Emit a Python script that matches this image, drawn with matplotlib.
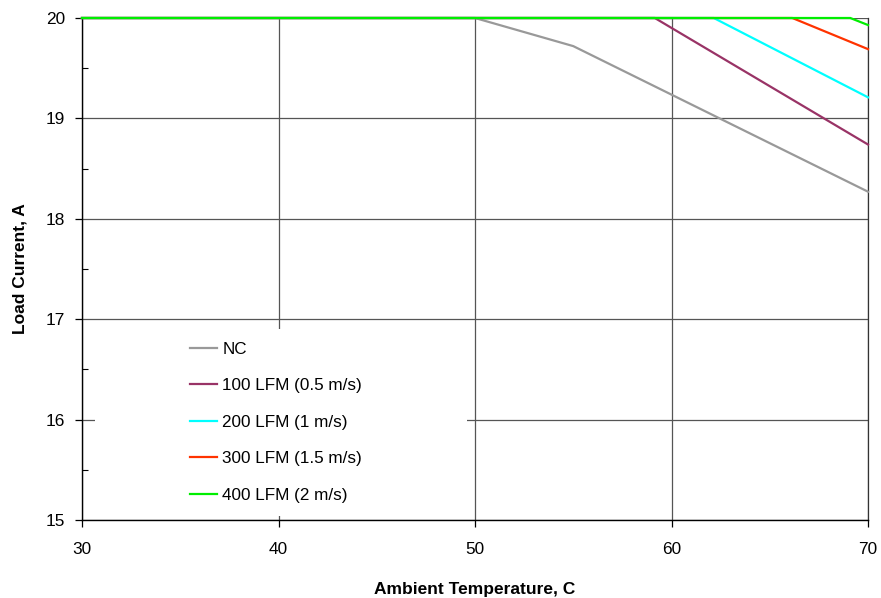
import matplotlib.pyplot as plt
from matplotlib.patches import Rectangle
from matplotlib.ticker import MultipleLocator

plt.rcParams['font.family'] = ['Liberation Sans', 'DejaVu Sans']

# derating curves (temperature C, current A)
nc_x = [30, 50, 55, 70]
nc_y = [20, 20, 19.72, 18.27]
lfm100_x = [30, 59.15, 70]
lfm100_y = [20, 20, 18.74]
lfm200_x = [30, 62.15, 70]
lfm200_y = [20, 20, 19.21]
lfm300_x = [30, 66.15, 70]
lfm300_y = [20, 20, 19.69]
lfm400_x = [30, 69.1, 70]
lfm400_y = [20, 20, 19.93]

labels = ['NC', '100 LFM (0.5 m/s)', '200 LFM (1 m/s)',
          '300 LFM (1.5 m/s)', '400 LFM (2 m/s)']
colors = ['#999999', '#993366', '#00FFFF', '#FF3300', '#00EE00']

fig = plt.figure(figsize=(8.81, 5.98), dpi=100)
ax = fig.add_axes([82/881, 1 - 520/598, 786/881, 502/598])

series = [(nc_x, nc_y), (lfm100_x, lfm100_y), (lfm200_x, lfm200_y),
          (lfm300_x, lfm300_y), (lfm400_x, lfm400_y)]
for (xs, ys), lab, c in zip(series, labels, colors):
    ax.plot(xs, ys, color=c, lw=1.6, label=lab, zorder=4, clip_on=False)

ax.set_xlim(30, 70)
ax.set_ylim(15, 20)
ax.xaxis.set_major_locator(MultipleLocator(10))
ax.yaxis.set_major_locator(MultipleLocator(1))
ax.yaxis.set_minor_locator(MultipleLocator(0.5))
ax.grid(True, which='major', color='#555555', lw=0.9, zorder=1)
ax.set_axisbelow(True)

ax.tick_params(axis='both', which='major', labelsize=12.4, direction='out',
               length=5, width=0.9, color='black')
ax.tick_params(axis='x', which='major', pad=11)
ax.tick_params(axis='y', which='major', pad=7)
ax.tick_params(axis='y', which='minor', direction='in', length=4, width=0.8)

for side in ['left', 'bottom']:
    ax.spines[side].set_color('black')
    ax.spines[side].set_linewidth(1.0)
ax.spines['right'].set_color('#333333')
ax.spines['right'].set_linewidth(0.9)
ax.spines['top'].set_visible(False)

ax.set_xlabel('Ambient Temperature, C', fontsize=12.5, fontweight='bold', labelpad=18)
ax.set_ylabel('Load Current, A', fontsize=12.5, fontweight='bold', labelpad=13)

# white legend area covering the grid
ax.add_patch(Rectangle((13/786, 4/502), 372/786, 187/502, transform=ax.transAxes,
                       facecolor='white', edgecolor='none', zorder=2))
ax.legend(loc='upper left', bbox_to_anchor=(0.137, 0.355), frameon=False,
          fontsize=12.3, handlelength=1.6, handletextpad=0.3,
          labelspacing=1.26, borderpad=0, borderaxespad=0)

fig.savefig('out.png', dpi=100)
